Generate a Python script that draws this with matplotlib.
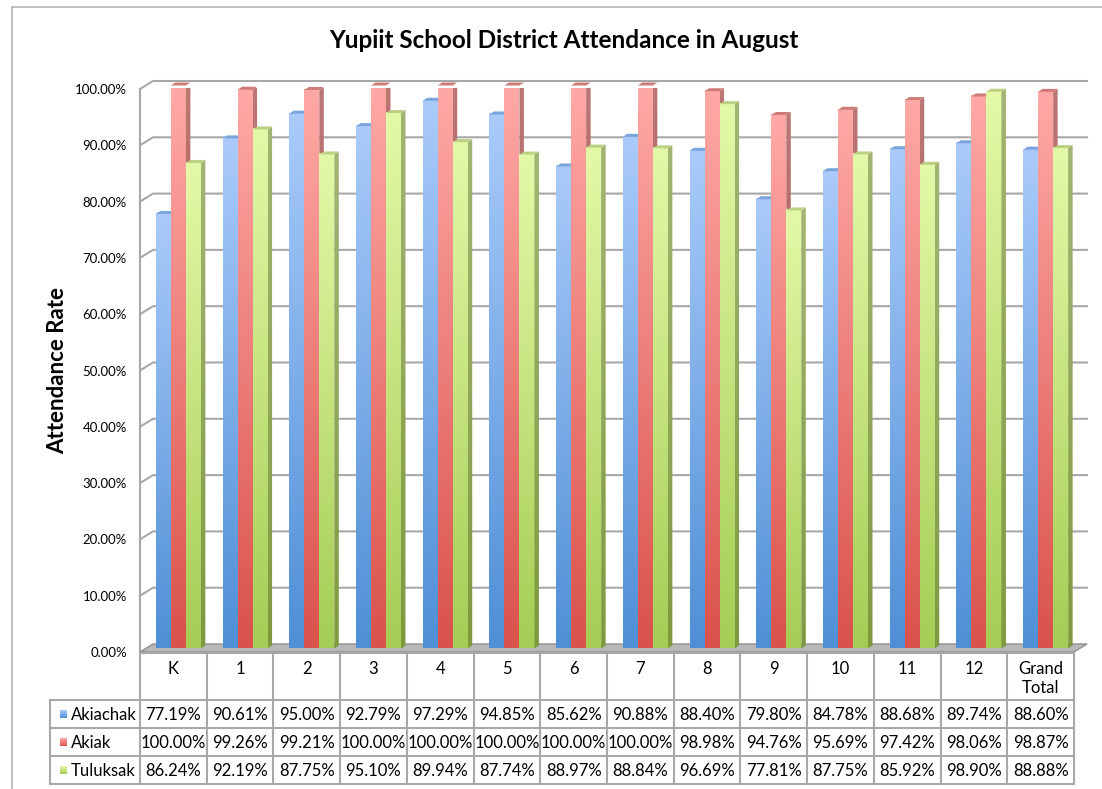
import numpy as np
import matplotlib
matplotlib.use("Agg")
import matplotlib.pyplot as plt
from matplotlib.colors import LinearSegmentedColormap
from matplotlib.patches import Polygon, Rectangle
from matplotlib.lines import Line2D

plt.rcParams["font.family"] = ["Lato", "DejaVu Sans"]

# ---- data ----
grades = ["K", "1", "2", "3", "4", "5", "6", "7", "8", "9", "10", "11", "12", "Grand\nTotal"]
schools = ["Akiachak", "Akiak", "Tuluksak"]
akiachak = [77.19, 90.61, 95.00, 92.79, 97.29, 94.85, 85.62, 90.88, 88.40, 79.80, 84.78, 88.68, 89.74, 88.60]
akiak = [100.00, 99.26, 99.21, 100.00, 100.00, 100.00, 100.00, 100.00, 98.98, 94.76, 95.69, 97.42, 98.06, 98.87]
tuluksak = [86.24, 92.19, 87.75, 95.10, 89.94, 87.74, 88.97, 88.84, 96.69, 77.81, 87.75, 85.92, 98.90, 88.88]
yticks = list(range(0, 101, 10))

# colours: (bottom, top, side_bottom, side_top, cap)
styles = [
    ("#4f8fd6", "#aacbfa", "#3f6fa8", "#7f9fcc", "#7aa4dc"),
    ("#da524c", "#ffa9a6", "#a8403c", "#bb7875", "#cf7b77"),
    ("#a5cd55", "#e4f9a8", "#7e9a40", "#a4b474", "#bccf82"),
]
series = [akiachak, akiak, tuluksak]

W, H = 1102, 789
fig = plt.figure(figsize=(W / 100, H / 100), dpi=100)

# chart border
fig.add_artist(Line2D([12 / W, 12 / W, 1.0], [0.0, 1 - 7 / H, 1 - 7 / H],
                      transform=fig.transFigure, color="#b4b4b4", lw=1.2))

x_left, x_right = 140, 1074
y_zero, y_top = 652, 89
ax = fig.add_axes([x_left / W, 1 - y_zero / H, (x_right - x_left) / W, (y_zero - y_top) / H])
n = len(grades)
ax.set_xlim(0, n)
ax.set_ylim(0, 100)

px_x = n / (x_right - x_left)
px_y = 100 / (y_zero - y_top)
dx, dy = 13 * px_x, 8 * px_y          # wall depth
bdx, bdy = 4.5 * px_x, 3 * px_y       # bar depth
base = 3.5 * px_y                     # bars stand mid-depth on the floor
bw = 15 * px_x
grid_c = "#a8a8a8"

# floor
ax.add_patch(Polygon([(0, 0), (n, 0), (n + dx, dy), (dx, dy)], closed=True,
                     facecolor="#b8b8b8", edgecolor="#909090", lw=1, clip_on=False, zorder=1))

# walls / gridlines
for v in yticks:
    if v == 0:
        continue
    ax.plot([0, dx, n + dx], [v, v + dy, v + dy], color=grid_c, lw=1.5, clip_on=False, zorder=0.5)
ax.plot([0, 0], [0, 100], color=grid_c, lw=1.5, clip_on=False, zorder=0.5)

grad = np.linspace(0, 1, 256).reshape(-1, 1)
z = 2
for i in range(n):
    for j, vals in enumerate(series):
        bot, top, sbot, stop, cap = styles[j]
        h = vals[i] + base
        x0 = i + 0.5 + (j - 1) * bw + 5 * px_x - bw / 2
        x1 = x0 + bw
        front = ax.bar(x0, vals[i], bottom=base, width=bw, align="edge", color="none",
                       lw=0, zorder=z, clip_on=False)[0]
        cm = LinearSegmentedColormap.from_list("f", [bot, top])
        im = ax.imshow(grad, cmap=cm, origin="lower", extent=(x0, x1, base, h),
                       aspect="auto", interpolation="bicubic", zorder=z)
        im.set_clip_path(front)
        im.set_clip_box(None)
        # side face
        side = Polygon([(x1, base), (x1 + bdx, base + bdy), (x1 + bdx, h + bdy), (x1, h)], closed=True,
                       facecolor="none", lw=0, clip_on=False, zorder=z)
        ax.add_patch(side)
        cms = LinearSegmentedColormap.from_list("s", [sbot, stop])
        ims = ax.imshow(grad, cmap=cms, origin="lower", extent=(x1, x1 + bdx, base, h + bdy),
                        aspect="auto", interpolation="bicubic", zorder=z)
        ims.set_clip_path(side)
        ims.set_clip_box(None)
        # top face
        ax.add_patch(Polygon([(x0, h), (x1, h), (x1 + bdx, h + bdy), (x0 + bdx, h + bdy)],
                             closed=True, facecolor=cap, lw=0, clip_on=False, zorder=z))
        z += 0.1

ax.set_xlim(0, n)
ax.set_ylim(0, 100)
ax.set_yticks(yticks)
ax.set_yticklabels([f"{v:.2f}%" for v in yticks], fontsize=9.5)
ax.tick_params(axis="y", length=0, pad=9.5)
ax.set_xticks([])
for s in ax.spines.values():
    s.set_visible(False)
ax.patch.set_visible(False)

fig.text(564 / W, 1 - 40 / H, "Yupiit School District Attendance in August",
         ha="center", va="center", fontsize=17.5, fontweight="bold")
fig.text(58 / W, 1 - 371 / H, "Attendance Rate", rotation=90,
         ha="center", va="center", fontsize=16, fontweight="bold")

# ---- data table ----
t_left, t_top, t_bot = 50, 653, 784
col_w = (x_right - x_left) / n
tab = fig.add_axes([t_left / W, 1 - t_bot / H, (x_right - t_left) / W, (t_bot - t_top) / H])
tab.set_xlim(-(x_left - t_left) / col_w, n)
tab.set_ylim(t_bot - t_top, 0)
tab.axis("off")
line_c = "#a8a8a8"
hdr_h, row_h = 47, 28
tab.plot([0, n], [0, 0], color=line_c, lw=1.5, clip_on=False)
for k in range(n + 1):
    tab.plot([k, k], [0, hdr_h + 3 * row_h], color=line_c, lw=1.5, clip_on=False)
lab_left = -(x_left - t_left) / col_w
tab.plot([lab_left, lab_left], [hdr_h, hdr_h + 3 * row_h], color=line_c, lw=1.5, clip_on=False)
for r in range(4):
    tab.plot([lab_left, n], [hdr_h + r * row_h] * 2, color=line_c, lw=1.5, clip_on=False)

for i, g in enumerate(grades):
    tab.text(i + 0.5, 8, g, ha="center", va="top", fontsize=12, linespacing=1.25)

key_w = 7 / col_w
kgrad = np.linspace(0, 1, 64).reshape(-1, 1)
for j, (name, vals) in enumerate(zip(schools, series)):
    yc = hdr_h + (j + 0.5) * row_h
    kx = lab_left + 10 / col_w
    kcm = LinearSegmentedColormap.from_list("k", [styles[j][1], styles[j][0]])
    tab.imshow(kgrad, cmap=kcm, origin="upper", extent=(kx, kx + key_w, yc + 4, yc - 4),
               aspect="auto", interpolation="bilinear")
    tab.text(lab_left + 21 / col_w, yc + 0.5, name, ha="left", va="center", fontsize=12)
    for i, v in enumerate(vals):
        tab.text(i + 0.5, yc + 0.5, f"{v:.2f}%", ha="center", va="center", fontsize=12)
tab.set_xlim(lab_left, n)
tab.set_ylim(t_bot - t_top, 0)

fig.savefig("out.png", dpi=100)
